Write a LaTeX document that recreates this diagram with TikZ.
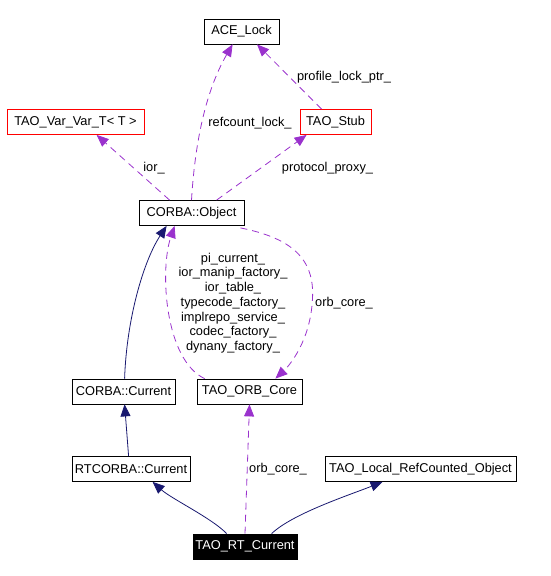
\documentclass[tikz,border=0pt]{standalone}
\usepackage{fontspec}
\setmainfont{Liberation Sans}
\usetikzlibrary{arrows.meta,calc}
\definecolor{edgepurple}{HTML}{9A32CD}
\definecolor{edgenavy}{HTML}{191970}
\begin{document}
\begin{tikzpicture}[x=1pt,y=-1pt,
  every node/.style={font=\fontsize{12.8}{14.7}\selectfont},
  cls/.style={draw=black,line width=0.8pt,inner sep=0pt,minimum height=25pt,fill=white},
  redcls/.style={cls,draw=red},
  curcls/.style={cls,fill=black,text=white},
  use/.style={draw=edgepurple,line width=0.8pt,dash pattern=on 7pt off 5pt,
    -{Triangle[length=12pt,width=10pt,fill=edgepurple]}},
  inh/.style={draw=edgenavy,line width=0.8pt,
    -{Triangle[length=12pt,width=10pt,fill=edgenavy]}},
  lbl/.style={inner sep=0pt,align=center}]
\useasboundingbox (0,0) rectangle (551,576);
\node[cls,minimum width=75pt] (lock) at (241.5,31.5) {ACE\_Lock};
\node[redcls,minimum width=137pt] (var) at (75.5,122) {TAO\_Var\_Var\_T< T >};
\node[redcls,minimum width=71pt] (stub) at (335.5,122) {TAO\_Stub};
\node[cls,minimum width=105pt] (obj) at (191.5,213) {CORBA::Object};
\node[cls,minimum width=103pt] (cur) at (123.5,391.5) {CORBA::Current};
\node[cls,minimum width=105pt] (orb) at (249.5,391.5) {TAO\_ORB\_Core};
\node[cls,minimum width=118pt] (rtc) at (131,469) {RTCORBA::Current};
\node[cls,minimum width=191pt] (loc) at (420.5,469) {TAO\_Local\_RefCounted\_Object};
\node[curcls,minimum width=104pt] (rt) at (245,546.5) {TAO\_RT\_Current};

% uses edges
\draw[use] (obj.north) .. controls ($(obj.north)+(3,-50)$) and ($(lock.south west)+(0,50)$) .. ($(lock.south west)+(29,0)$);
\draw[use] ($(stub.north west)+(22,0)$) -- ($(lock.south)+(15.5,0)$);
\draw[use] ($(obj.north west)+(31,0)$) -- ($(var.south west)+(90,0)$);
\draw[use] ($(obj.north west)+(78,0)$) -- ($(stub.south west)+(7,0)$);
\draw[use] ($(orb.north west)+(8,0)$) .. controls ($(orb.north west)+(-32,-19)$) and ($(obj.south west)+(21,44)$) .. ($(obj.south west)+(36,0)$);
\draw[use] ($(obj.south east)+(-4,2)$) .. controls ($(obj.south east)+(46,12)$) and ($(obj.south east)+(71,32)$) .. ($(obj.south east)+(68,74)$)
  .. controls ($(orb.north east)+(8,-39)$) and ($(orb.north east)+(-12,-14)$) .. ($(orb.north east)+(-27,0)$);
\draw[use] (rt.north) -- (orb.south);

% inheritance edges
\draw[inh] ($(cur.north west)+(53,0)$) .. controls ($(cur.north west)+(55,-60)$) and ($(obj.south west)+(5,35)$) .. ($(obj.south west)+(28,0)$);
\draw[inh] ($(rtc.north west)+(57,0)$) -- ($(cur.south west)+(53,0)$);
\draw[inh] ($(rt.north west)+(34,0)$) .. controls ($(rt.north west)+(20,-15)$) and ($(rtc.south west)+(100,17)$) .. ($(rtc.south west)+(81,0)$);
\draw[inh] ($(rt.north west)+(79,0)$) .. controls ($(rt.north west)+(100,-20)$) and ($(loc.south west)+(25,13)$) .. ($(loc.south west)+(58,0)$);

% labels
\node[lbl] (l1) at (250,123) {refcount\_lock\_};
\node[lbl] (l2) at (344,77) {profile\_lock\_ptr\_};
\node[lbl] (l3) at (154,168) {ior\_};
\node[lbl] (l4) at (327.5,168) {protocol\_proxy\_};
\node[lbl] (l5) at (233,303) {pi\_current\_\\ior\_manip\_factory\_\\ior\_table\_\\typecode\_factory\_\\implrepo\_service\_\\codec\_factory\_\\dynany\_factory\_};
\node[lbl] (l6) at (344,303) {orb\_core\_};
\node[lbl] (l7) at (278,469) {orb\_core\_};
\end{tikzpicture}
\end{document}
